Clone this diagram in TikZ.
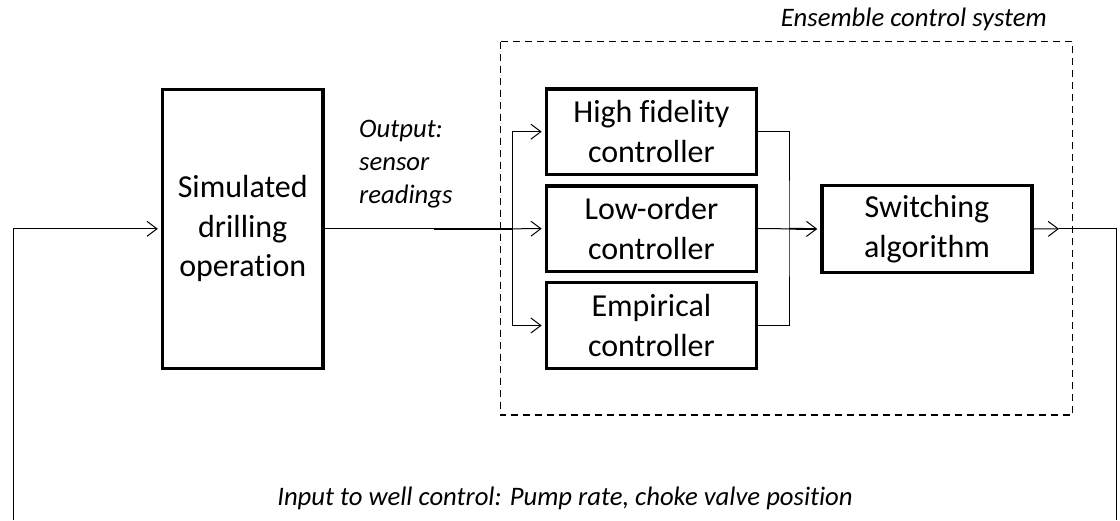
\documentclass[tikz,border=0pt]{standalone}
\usepackage{fontspec}
\setmainfont{Carlito}[RawFeature={-liga;-clig}]
\usetikzlibrary{arrows.meta}
\tikzset{
  blk/.style={draw, line width=3.4pt, rectangle, inner sep=0pt, align=center,
    font=\fontsize{32}{39.5}\selectfont},
  conn/.style={line width=1pt},
  arr/.style={conn, shorten >=3pt, -{Straight Barb[length=10pt,width=15pt,line width=1pt]}},
  lbl/.style={inner sep=0pt, font=\fontsize{26.7}{33}\selectfont\itshape},
}
\begin{document}
\begin{tikzpicture}[x=1pt,y=-1pt]
\useasboundingbox (0,0) rectangle (1120,520);
% dashed frame
\draw[line width=1.4pt, dash pattern=on 7pt off 5pt] (500.4,41.7) rectangle (1072.7,415);
\node[lbl, anchor=base east] (title) at (1047,26) {Ensemble control system};
% blocks
\node[blk, minimum width=160.5pt, minimum height=279pt] (sim) at (242.75,228.8) {Simulated\\drilling\\operation};
\node[blk, minimum width=210pt, minimum height=85.3pt] (high) at (651.4,131.7) {High fidelity\\controller};
\node[blk, minimum width=210pt, minimum height=85.4pt] (low) at (651.4,228.6) {Low-order\\controller};
\node[blk, minimum width=210pt, minimum height=85.6pt] (emp) at (651.4,325.5) {Empirical\\controller};
\node[blk, minimum width=210pt, minimum height=86.6pt] (sw) at (927,229) {Switching\\algorithm};
% labels
\node[lbl, anchor=north west, align=left] (outlbl) at (359,119.5) {Output:\\sensor\\readings};
\node[lbl, anchor=base] (inlbl) at (565,505) {Input to well control: Pump rate, choke valve position};
% coordinates
\coordinate (split) at (512.5,228.8);
\coordinate (ovl) at (434,228.8);
\coordinate (merge) at (789,228.8);
\coordinate (fbL) at (13.6,520);
\coordinate (fbR) at (1116.7,520);
\coordinate (outA) at (1059,228.8);
% connectors
\draw[arr] (fbL) |- (sim.west);
\draw[conn] (sim.east) -- (split);
\draw[line width=1.8pt] (ovl) -- (split);
\draw[arr] (split) |- (high.west);
\draw[arr] (split) -- (low.west);
\draw[arr] (split) |- (emp.west);
\draw[conn] (high.east) -| (merge) |- (emp.east);
\draw[conn] (low.east) -- (merge);
\draw[arr, line width=1.8pt] (merge) -- (sw.west);
\draw[conn, -{Straight Barb[length=10pt,width=15pt,line width=1pt]}] (sw.east) -- (outA);
\draw[conn] (outA) -| (fbR);
\end{tikzpicture}
\end{document}
